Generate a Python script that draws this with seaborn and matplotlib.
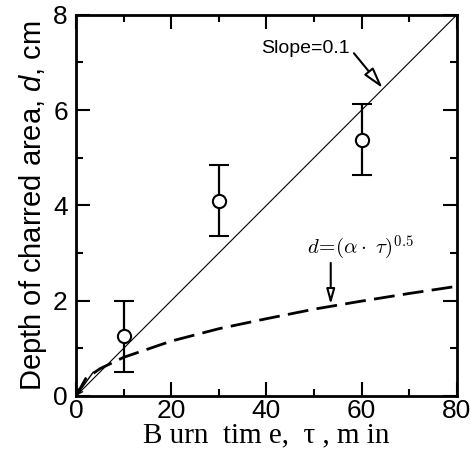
import numpy as np
import pandas as pd
import matplotlib
matplotlib.use("Agg")
import matplotlib.pyplot as plt
import seaborn as sns

#%% Data

burn_time = [10, 30, 60]
depth = [1.25, 4.1, 5.38]
depth_err = [0.75, 0.75, 0.75]

slope_x = [0, 80]
slope_y = [0, 8]

# d = (alpha*tau)^0.5
curve_x = [0, 2, 5, 10, 20, 30, 40, 50, 60, 70, 80]
curve_y = [0, 0.36, 0.57, 0.81, 1.15, 1.41, 1.62, 1.82, 1.99, 2.15, 2.30]

#%% Style

sns.set_style("ticks", rc={'axes.edgecolor': 'black', 'xtick.color': 'black',
                           'ytick.color': 'black', 'text.color': 'black',
                           'axes.labelcolor': 'black'})
plt.rcParams['font.family'] = ['Liberation Sans', 'DejaVu Sans']
plt.rcParams['mathtext.fontset'] = 'custom'
plt.rcParams['mathtext.it'] = 'Liberation Sans:italic'
plt.rcParams['mathtext.rm'] = 'Liberation Sans'

fig = plt.figure(figsize=(4.70, 4.63), dpi=100)
ax = fig.add_axes([0.162, 0.145, 0.810, 0.823])

#%% Lines

sns.lineplot(x=slope_x, y=slope_y, ax=ax, color='black', lw=0.8)
g = sns.lineplot(x=curve_x, y=curve_y, ax=ax, color='black', lw=2.0)
g.lines[-1].set_dashes([7.5, 3])

ax.errorbar(burn_time, depth, yerr=depth_err, fmt='o', color='black',
            mfc='white', mec='black', ms=9.5, mew=1.5, elinewidth=1.6,
            capsize=7, capthick=1.6, zorder=5)

#%% Annotations

arrow = dict(arrowstyle='-|>,head_length=0.9,head_width=0.25', fc='white',
             ec='black', lw=1.5, shrinkA=1, shrinkB=0)
ax.annotate('Slope=0.1', xy=(64.4, 6.46), xytext=(57.5, 7.3),
            ha='right', va='center', fontsize=14,
            arrowprops=dict(arrow, relpos=(1.0, 0.5)))
ax.annotate(r'$d\!=\!(\alpha\cdot\ \tau)^{0.5}$', xy=(48.6, 3.1),
            ha='left', va='center', fontsize=15, math_fontfamily='cm')
ax.annotate('', xy=(53.5, 1.92), xytext=(53.5, 2.82), arrowprops=arrow)
ax.annotate('', xy=(0, 0), xytext=(3.6, 0.5),
            arrowprops=dict(arrowstyle='->', color='black', lw=1.0,
                            shrinkA=0, shrinkB=0))

#%% Axes

ax.set_xlim(0, 80)
ax.set_ylim(0, 8)
ax.set_xticks([0, 20, 40, 60, 80])
ax.set_yticks([0, 2, 4, 6, 8])
ax.set_xticks(np.arange(0, 81, 10), minor=True)
ax.set_yticks(np.arange(0, 8.1, 1), minor=True)
ax.tick_params(which='both', direction='in', top=True, right=True,
               width=1.5, labelsize=19, colors='black')
ax.tick_params(which='major', length=10)
ax.tick_params(which='minor', length=5)
ax.tick_params(axis='x', pad=2)
ax.tick_params(axis='y', pad=6)
for s in ax.spines.values():
    s.set_linewidth(2.0)
    s.set_color('black')

ax.set_ylabel('Depth of charred area, $d$, cm', fontsize=21, labelpad=3)
ax.set_xlabel(u'B urn  tim e,  \u03c4 , m in', fontsize=21,
              family=['Liberation Serif', 'DejaVu Serif'], labelpad=0)

plt.savefig('out.png', dpi=100)
